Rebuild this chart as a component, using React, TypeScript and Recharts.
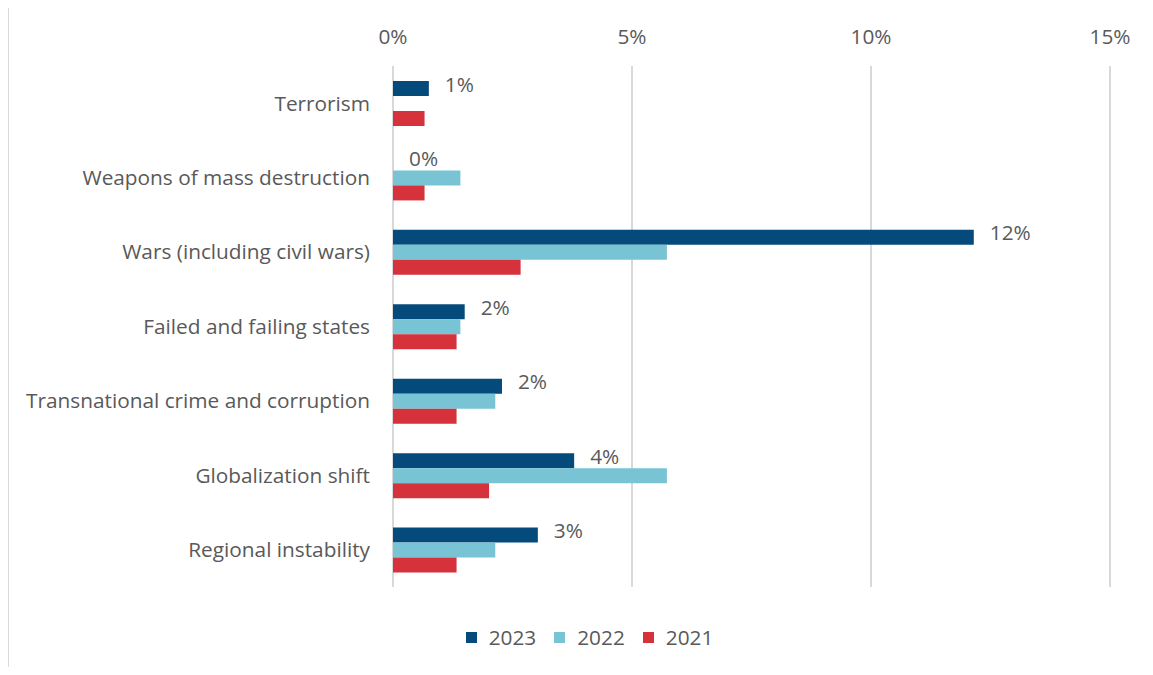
import React from 'react';
import { BarChart, Bar, XAxis, YAxis, CartesianGrid, Legend, LabelList } from 'recharts';

const categories = [
  'Terrorism',
  'Weapons of mass destruction',
  'Wars (including civil wars)',
  'Failed and failing states',
  'Transnational crime and corruption',
  'Globalization shift',
  'Regional instability',
];

const values2023 = [0.75, 0, 12.15, 1.5, 2.28, 3.79, 3.03];
const values2022 = [0, 1.41, 5.73, 1.41, 2.14, 5.73, 2.14];
const values2021 = [0.66, 0.66, 2.67, 1.33, 1.33, 2.01, 1.33];

const xTicks = [0, 5, 10, 15];

const series = [
  { key: 'y2023', name: '2023', color: '#044a7b' },
  { key: 'y2022', name: '2022', color: '#78c4d4' },
  { key: 'y2021', name: '2021', color: '#d5323c' },
];

const data = categories.map((name, i) => ({
  name,
  y2023: values2023[i],
  y2022: values2022[i],
  y2021: values2021[i],
}));

const FONT = '"Open Sans", sans-serif';
const TEXT = '#595959';
const FS = 20.8;

const ValueLabel = (props: any) => {
  const { x, y, width, height, value } = props;
  return (
    <text
      x={Number(x) + Number(width) + 16}
      y={Number(y) + Number(height) / 2 - 5}
      fill={TEXT}
      fontSize={FS}
      fontFamily={FONT}
      dominantBaseline="central"
    >
      {`${Math.round(Number(value))}%`}
    </text>
  );
};

const LegendContent = () => (
  <div style={{ display: 'flex', justifyContent: 'center', fontFamily: FONT, fontSize: FS, color: TEXT, gap: 18 }}>
    {series.map(s => (
      <div key={s.key} style={{ display: 'flex', alignItems: 'center' }}>
        <span style={{ width: 11, height: 11, background: s.color, display: 'inline-block', marginRight: 12 }} />
        <span>{s.name}</span>
      </div>
    ))}
  </div>
);

export default function App() {
  return (
    <div style={{ position: 'relative', width: 1153, height: 675, margin: -8, background: '#fff', overflow: 'hidden' }}>
      <div
        style={{
          position: 'absolute',
          left: 7,
          top: 5,
          width: 1200,
          height: 720,
          borderLeft: '2px solid #d9d9d9',
          borderTop: '2px solid #d9d9d9',
        }}
      />
      <div style={{ position: 'absolute', left: 0, top: 0 }}>
        <BarChart
          width={1153}
          height={675}
          data={data}
          layout="vertical"
          margin={{ top: 36, right: 43, left: 0, bottom: 88 }}
          barSize={15}
          barGap={0}
        >
          <CartesianGrid horizontal={false} stroke="#d9d9d9" strokeWidth={2} />
          <XAxis
            type="number"
            orientation="top"
            domain={[0, 15]}
            ticks={xTicks}
            tickFormatter={v => `${v}%`}
            axisLine={false}
            tickLine={false}
            height={30}
            tickMargin={16}
            tick={{ fill: TEXT, fontSize: FS, fontFamily: FONT }}
            interval={0}
          />
          <YAxis
            type="category"
            dataKey="name"
            width={393}
            axisLine={false}
            tickLine={false}
            tickMargin={17}
            tick={{ fill: TEXT, fontSize: FS, fontFamily: FONT }}
            interval={0}
          />
          {series.map(s => (
            <Bar
              key={s.key}
              dataKey={s.key}
              name={s.name}
              fill={s.color}
              isAnimationActive={false}
              minPointSize={s.key === 'y2023' ? 0.01 : 0}
            >
              {s.key === 'y2023' ? <LabelList dataKey={s.key} content={ValueLabel} /> : null}
            </Bar>
          ))}
          <Legend
            verticalAlign="middle"
            layout="horizontal"
            content={LegendContent}
            wrapperStyle={{ top: 623, left: 13, width: 1153, bottom: 'auto', transform: 'none' }}
          />
        </BarChart>
      </div>
    </div>
  );
}
